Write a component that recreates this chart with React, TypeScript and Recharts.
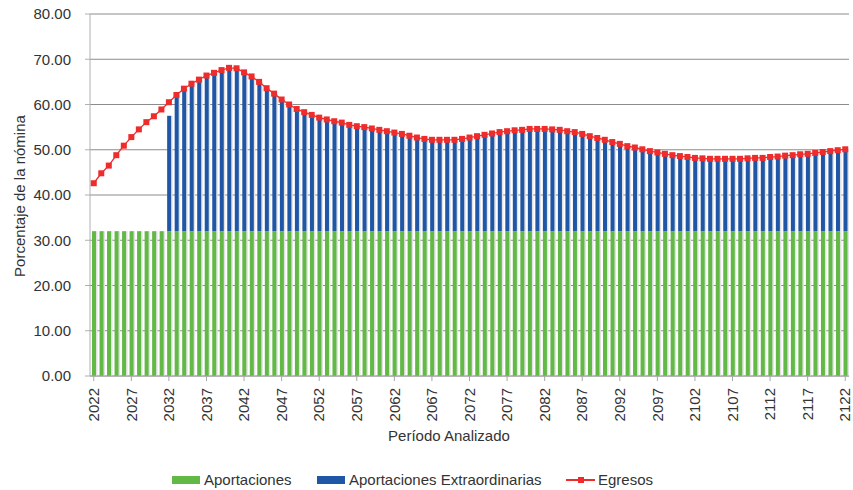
import React from 'react';
import { ComposedChart, Bar, Line, XAxis, YAxis, CartesianGrid, Legend, Label } from 'recharts';

const years: string[] = [];
for (let y = 2022; y <= 2122; y++) years.push(String(y));

const egresos: number[] = [
  42.6, 44.8, 46.5, 48.8, 50.9, 52.8, 54.5, 56.1, 57.4, 58.9,
  60.5, 62.1, 63.5, 64.6, 65.5, 66.4, 67.0, 67.6, 68.1, 68.0,
  67.1, 66.2, 65.0, 63.6, 62.4, 61.1, 60.0, 59.0, 58.3, 57.7,
  57.1, 56.7, 56.3, 56.0, 55.5, 55.2, 55.0, 54.7, 54.4, 54.1,
  53.8, 53.5, 53.1, 52.7, 52.4, 52.2, 52.2, 52.2, 52.2, 52.4,
  52.7, 53.0, 53.3, 53.6, 53.9, 54.1, 54.3, 54.4, 54.6, 54.6,
  54.6, 54.5, 54.4, 54.1, 53.9, 53.5, 53.0, 52.6, 52.2, 51.7,
  51.3, 50.8, 50.5, 50.1, 49.7, 49.4, 49.1, 48.8, 48.6, 48.4,
  48.2, 48.1, 48.0, 48.0, 48.0, 48.0, 48.0, 48.1, 48.2, 48.2,
  48.4, 48.5, 48.7, 48.8, 49.0, 49.1, 49.3, 49.5, 49.7, 49.9,
  50.1,
];

const aportaciones: number[] = [
  32, 32, 32, 32, 32, 32, 32, 32, 32, 32,
  32, 32, 32, 32, 32, 32, 32, 32, 32, 32,
  32, 32, 32, 32, 32, 32, 32, 32, 32, 32,
  32, 32, 32, 32, 32, 32, 32, 32, 32, 32,
  32, 32, 32, 32, 32, 32, 32, 32, 32, 32,
  32, 32, 32, 32, 32, 32, 32, 32, 32, 32,
  32, 32, 32, 32, 32, 32, 32, 32, 32, 32,
  32, 32, 32, 32, 32, 32, 32, 32, 32, 32,
  32, 32, 32, 32, 32, 32, 32, 32, 32, 32,
  32, 32, 32, 32, 32, 32, 32, 32, 32, 32,
  32,
];

const extraordinarias: number[] = [
  0, 0, 0, 0, 0, 0, 0, 0, 0, 0,
  25.5, 30.1, 31.5, 32.6, 33.5, 34.4, 35.0, 35.6, 36.1, 36.0,
  35.1, 34.2, 33.0, 31.6, 30.4, 29.1, 28.0, 27.0, 26.3, 25.7,
  25.1, 24.7, 24.3, 24.0, 23.5, 23.2, 23.0, 22.7, 22.4, 22.1,
  21.8, 21.5, 21.1, 20.7, 20.4, 20.2, 20.2, 20.2, 20.2, 20.4,
  20.7, 21.0, 21.3, 21.6, 21.9, 22.1, 22.3, 22.4, 22.6, 22.6,
  22.6, 22.5, 22.4, 22.1, 21.9, 21.5, 21.0, 20.6, 20.2, 19.7,
  19.3, 18.8, 18.5, 18.1, 17.7, 17.4, 17.1, 16.8, 16.6, 16.4,
  16.2, 16.1, 16.0, 16.0, 16.0, 16.0, 16.0, 16.1, 16.2, 16.2,
  16.4, 16.5, 16.7, 16.8, 17.0, 17.1, 17.3, 17.5, 17.7, 17.9,
  18.1,
];

const yTicks: number[] = [0, 10, 20, 30, 40, 50, 60, 70, 80];

const data = years.map((year, i) => ({
  year,
  aportaciones: aportaciones[i],
  extraordinarias: extraordinarias[i],
  egresos: egresos[i],
}));

const GREEN = '#62b946';
const BLUE = '#1f56a6';
const RED = '#ee2c2c';
const FONT = '"Liberation Sans", Arial, sans-serif';
const TEXT = '#333333';

const shadowBar = (fill: string) => (props: any) => {
  const { x, y, width, height } = props;
  if (!height || height <= 0) return <g />;
  return (
    <g>
      <rect x={x + 1.5} y={y} width={width} height={height} fill="#e2e2e2" />
      <rect x={x} y={y} width={width} height={height} fill={fill} />
    </g>
  );
};

const XTick = (props: any) => {
  const { x, y, payload } = props;
  return (
    <text
      x={x}
      y={y}
      dy="0.35em"
      transform={`rotate(-90, ${x}, ${y})`}
      textAnchor="end"
      fontSize={15}
      fontFamily={FONT}
      fill={TEXT}
    >
      {payload.value}
    </text>
  );
};

const SquareDot = (props: any) => {
  const { cx, cy, index } = props;
  if (cx == null || cy == null) return <g key={`d${index}`} />;
  return <rect key={`d${index}`} x={cx - 3} y={cy - 3} width={6} height={6} fill={RED} />;
};

const LegendContent = () => (
  <div style={{ position: 'relative', height: 30, width: 853, fontFamily: FONT, fontSize: 15, color: TEXT }}>
    <div style={{ position: 'absolute', left: 172, top: 16, width: 28, height: 8, background: GREEN }} />
    <div style={{ position: 'absolute', left: 204, top: 10, lineHeight: '20px' }}>Aportaciones</div>
    <div style={{ position: 'absolute', left: 317, top: 16, width: 28, height: 8, background: BLUE }} />
    <div style={{ position: 'absolute', left: 349, top: 10, lineHeight: '20px' }}>Aportaciones Extraordinarias</div>
    <div style={{ position: 'absolute', left: 566, top: 19, width: 29, height: 2, background: RED }} />
    <div style={{ position: 'absolute', left: 578, top: 17, width: 6, height: 6, background: RED }} />
    <div style={{ position: 'absolute', left: 598, top: 10, lineHeight: '20px' }}>Egresos</div>
  </div>
);

export default function App() {
  return (
    <div style={{ position: 'absolute', left: 0, top: 0, width: 853, height: 490, background: '#fff' }}>
      <ComposedChart
        width={853}
        height={490}
        data={data}
        margin={{ top: 14, right: 4, left: 0, bottom: 0 }}
        barCategoryGap={0}
        barGap={0}
      >
        <CartesianGrid vertical={false} stroke="#8c8c8c" strokeWidth={1} />
        <XAxis
          dataKey="year"
          interval={4}
          tick={<XTick />}
          tickSize={5}
          tickMargin={7}
          height={84}
          axisLine={{ stroke: '#a6a6a6' }}
          tickLine={{ stroke: '#a6a6a6' }}
        >
          <Label
            content={() => (
              <text x={449} y={441} textAnchor="middle" fontSize={15} fontFamily={FONT} fill={TEXT}>
                Período Analizado
              </text>
            )}
          />
        </XAxis>
        <YAxis
          domain={[0, 80]}
          ticks={yTicks}
          width={90}
          tickSize={5}
          tickMargin={14}
          tickFormatter={(v: number) => v.toFixed(2)}
          tick={{ fontSize: 15, fontFamily: FONT, fill: TEXT }}
          axisLine={{ stroke: '#b0b0b0' }}
          tickLine={{ stroke: '#b0b0b0' }}
          allowDataOverflow
        >
          <Label
            content={() => (
              <text
                x={25}
                y={196}
                transform="rotate(-90, 25, 196)"
                textAnchor="middle"
                fontSize={15}
                fontFamily={FONT}
                fill={TEXT}
              >
                Porcentaje de la nómina
              </text>
            )}
          />
        </YAxis>
        <YAxis
          yAxisId="r"
          orientation="right"
          domain={[0, 80]}
          width={0}
          tick={false}
          tickLine={false}
          axisLine={{ stroke: '#d0d0d0' }}
        />
        <Legend verticalAlign="bottom" content={<LegendContent />} />
        <Bar
          dataKey="aportaciones"
          name="Aportaciones"
          stackId="a"
          fill={GREEN}
          barSize={4}
          shape={shadowBar(GREEN)}
          isAnimationActive={false}
        />
        <Bar
          dataKey="extraordinarias"
          name="Aportaciones Extraordinarias"
          stackId="a"
          fill={BLUE}
          barSize={4}
          shape={shadowBar(BLUE)}
          isAnimationActive={false}
        />
        <Line
          dataKey="egresos"
          name="Egresos"
          stroke={RED}
          strokeWidth={1.3}
          dot={SquareDot}
          activeDot={false}
          isAnimationActive={false}
        />
      </ComposedChart>
    </div>
  );
}
